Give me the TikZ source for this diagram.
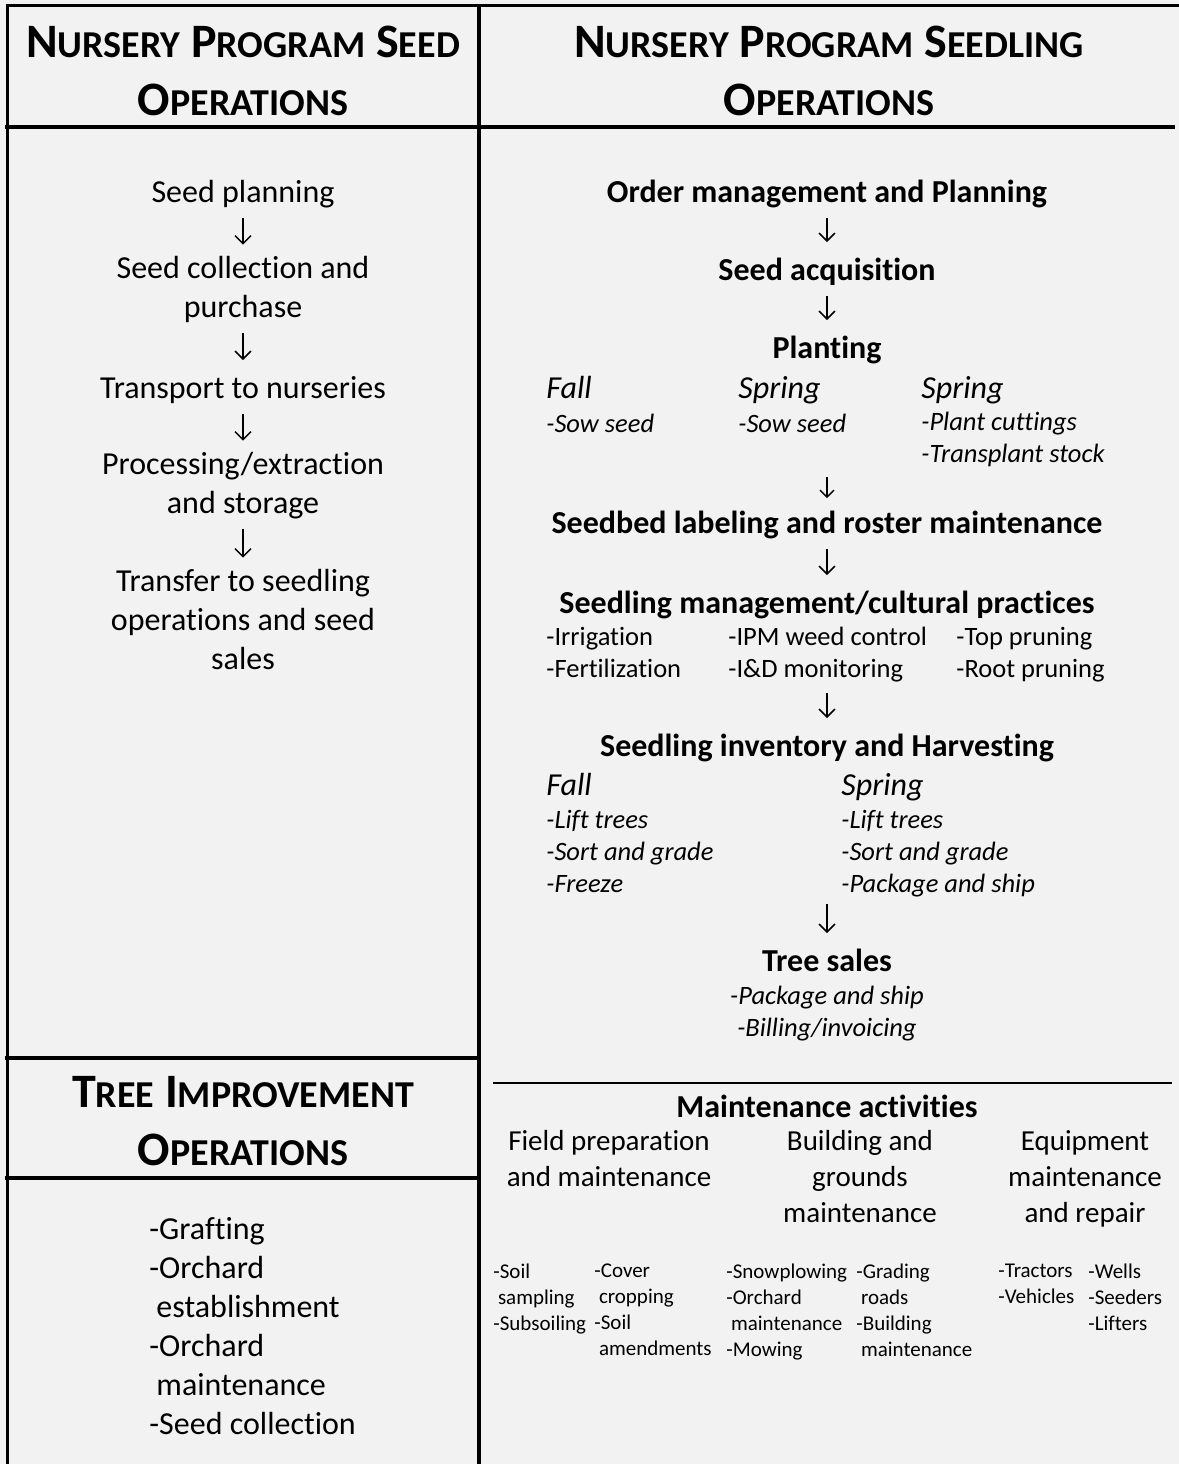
\documentclass[tikz,border=0pt]{standalone}
\usepackage{fontspec}
\setmainfont{Carlito}[Ligatures=NoCommon]
\usepackage{tikz}
\usetikzlibrary{arrows.meta,positioning}
\definecolor{cellgray}{HTML}{F2F2F2}

\newcommand{\headfont}{\fontsize{24}{29}\selectfont\bfseries}
\newcommand{\smc}[1]{{\fontsize{19}{29}\selectfont #1}}
\newcommand{\bodyfont}{\fontsize{16}{19.5}\selectfont}
\newcommand{\subfont}{\fontsize{13.25}{16}\selectfont\itshape}
\newcommand{\taskfont}{\fontsize{13.25}{16}\selectfont}
\newcommand{\groupfont}{\fontsize{14.5}{18}\selectfont}
\newcommand{\itemfont}{\fontsize{10.5}{13}\selectfont}
\newcommand{\ipad}{\hspace*{0.22em}}

\tikzset{
  txt/.style={inner sep=0pt, yshift=-2.5pt,
    execute at begin node=\strut, execute at end node=\strut},
  head/.style={inner sep=0pt, align=center, font=\headfont},
  stage/.style={txt, align=center, font=\bodyfont},
  bstage/.style={txt, align=center, font=\bodyfont\bfseries},
  season/.style={txt, anchor=west, font=\bodyfont\itshape},
  sublist/.style={txt, anchor=west, align=left, font=\subfont},
  tasks/.style={txt, anchor=west, align=left, font=\taskfont},
  group/.style={txt, align=center, font=\groupfont},
  items/.style={txt, anchor=west, align=left, font=\itemfont},
  flow/.style={-{Straight Barb[length=4pt,width=8pt]}, line width=0.75pt,
    shorten <=1.75pt, shorten >=5.5pt},
  smallflow/.style={-{Straight Barb[length=3.5pt,width=7pt]}, line width=0.7pt,
    shorten <=0pt, shorten >=4pt},
  rule/.style={line width=2pt},
}

\begin{document}
\begin{tikzpicture}[x=0.5pt,y=-0.5pt]
  \useasboundingbox (0,0) rectangle (1179,1464);
  \fill[cellgray] (0,0) rectangle (1179,1464);

  % table frame
  \draw[line width=1.5pt] (6,5) -- (1179,5);
  \draw[line width=1.5pt] (7.5,5) -- (7.5,1464);
  \draw[rule] (479,5) -- (479,1464);
  \draw[rule] (5,127) -- (1175,127);
  \draw[rule] (5,1058) -- (479,1058);
  \draw[rule] (5,1178) -- (479,1178);
  \draw[line width=1pt] (493,1083) -- (1172,1083);

  % column headings
  \node[head] (seedhead) at (243,71) {N\smc{URSERY} P\smc{ROGRAM} S\smc{EED}\\O\smc{PERATIONS}};
  \node[head] (seedlinghead) at (829,71) {N\smc{URSERY} P\smc{ROGRAM} S\smc{EEDLING}\\O\smc{PERATIONS}};
  \node[head] (treehead) at (243,1121.5) {T\smc{REE} I\smc{MPROVEMENT}\\O\smc{PERATIONS}};

  % seed operations
  \node[stage] (seedplan) at (243,190) {Seed planning};
  \node[stage] (seedcoll) at (243,287.5) {Seed collection and\\purchase};
  \node[stage] (transport) at (243,386) {Transport to nurseries};
  \node[stage] (process) at (243,483.5) {Processing/extraction\\and storage};
  \node[stage] (transfer) at (243,620) {Transfer to seedling\\operations and seed\\sales};
  \draw[flow] (seedplan) -- (seedcoll);
  \draw[flow] (seedcoll) -- (transport);
  \draw[flow] (transport) -- (process);
  \draw[flow] (process) -- (transfer);

  % seedling operations
  \node[bstage] (ordmgmt) at (827,190) {Order management and Planning};
  \node[bstage] (seedacq) at (827,268) {Seed acquisition};
  \node[bstage] (planting) at (827,346) {Planting};
  \draw[flow] (ordmgmt) -- (seedacq);
  \draw[flow] (seedacq) -- (planting);

  \node[season] (fallsow) at (546,386) {Fall};
  \node[sublist] (fallsowlist) at (546,421) {-Sow seed};
  \node[season] (springsow) at (738,386) {Spring};
  \node[sublist] (springsowlist) at (738,421) {-Sow seed};
  \node[season] (springcut) at (921,386) {Spring};
  \node[sublist] (springcutlist) at (921,437) {-Plant cuttings\\-Transplant stock};

  \node[bstage] (seedbed) at (827,521) {Seedbed labeling and roster maintenance};
  \coordinate (plantdone) at (827,477);
  \draw[smallflow] (plantdone) -- (seedbed);

  \node[bstage] (culture) at (827,601) {Seedling management/cultural practices};
  \draw[flow] (seedbed) -- (culture);
  \node[tasks] (water) at (546,652) {-Irrigation\\-Fertilization};
  \node[tasks] (pest) at (728,652) {-IPM weed control\\-I\&D monitoring};
  \node[tasks] (prune) at (956,652) {-Top pruning\\-Root pruning};

  \node[bstage] (inventory) at (827,744) {Seedling inventory and Harvesting};
  \coordinate (culturedone) at (827,693);
  \draw[flow, shorten <=0pt] (culturedone) -- (inventory);

  \node[season] (fallharv) at (546,783) {Fall};
  \node[sublist] (fallharvlist) at (546,851) {-Lift trees\\-Sort and grade\\-Freeze};
  \node[season] (springharv) at (841,783) {Spring};
  \node[sublist] (springharvlist) at (841,851) {-Lift trees\\-Sort and grade\\-Package and ship};

  \node[bstage] (sales) at (827,959) {Tree sales};
  \coordinate (harvdone) at (827,904);
  \draw[flow, shorten <=0pt] (harvdone) -- (sales);
  \node[sublist, anchor=center, align=center] (saleslist) at (827,1011) {-Package and ship\\-Billing/invoicing};

  % maintenance
  \node[bstage] (maint) at (827,1105) {Maintenance activities};
  \node[group] (field) at (609,1159) {Field preparation\\and maintenance};
  \node[group] (grounds) at (860,1177) {Building and\\grounds\\maintenance};
  \node[group] (equip) at (1085,1177) {Equipment\\maintenance\\and repair};

  \node[items] (soil) at (493,1296) {-Soil\\\ipad sampling\\-Subsoiling};
  \node[items] (cover) at (594,1309) {-Cover\\\ipad cropping\\-Soil\\\ipad amendments};
  \node[items] (snow) at (726,1309) {-Snowplowing\\-Orchard\\\ipad maintenance\\-Mowing};
  \node[items] (roads) at (856,1309) {-Grading\\\ipad roads\\-Building\\\ipad maintenance};
  \node[items] (tractors) at (998,1283) {-Tractors\\-Vehicles};
  \node[items] (wells) at (1088,1296) {-Wells\\-Seeders\\-Lifters};

  % tree improvement
  \node[stage, align=left, anchor=west] (treelist) at (149,1326.5)
    {-Grafting\\-Orchard\\\ipad establishment\\-Orchard\\\ipad maintenance\\-Seed collection};
\end{tikzpicture}
\end{document}
